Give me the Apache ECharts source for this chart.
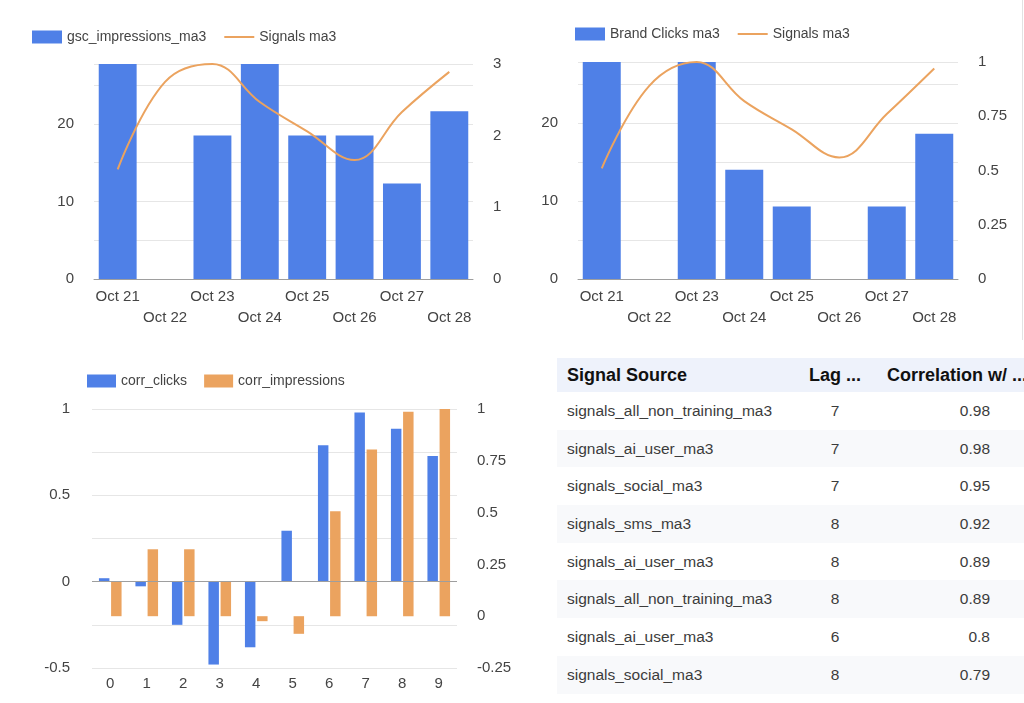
<!DOCTYPE html>
<html>
<head>
<meta charset="utf-8">
<script src="https://cdn.jsdelivr.net/npm/echarts@6/dist/echarts.min.js"></script>
<style>
  html, body { margin: 0; padding: 0; background: #fff; }
  body { width: 1024px; height: 703px; position: relative; overflow: hidden; font-family: "Liberation Sans", Arial, sans-serif; }
  .box { position: absolute; }
  #chart1 { left: 0; top: 0; width: 520px; height: 340px; }
  #chart2 { left: 520px; top: 0; width: 504px; height: 340px; }
  #chart3 { left: 0; top: 345px; width: 545px; height: 358px; }
  #edge { position: absolute; left: 1022px; top: 0; width: 1px; height: 340px; background: #e2e2e2; }
  #table { position: absolute; left: 557px; top: 358px; width: 467px; overflow: hidden; }
  table { border-collapse: collapse; table-layout: fixed; width: 480px; }
  th, td { padding: 0; white-space: nowrap; overflow: hidden; }
  th { height: 34px; background: #eef2fb; color: #111; font-size: 18px; font-weight: bold; text-align: left; }
  td { height: 37.7px; color: #3c3c3c; font-size: 15.5px; }
  tr.odd td { background: #f8f9fb; }
  .c1 { width: 233px; padding-left: 10px; box-sizing: border-box; }
  .c2 { width: 90px; text-align: center; }
  .c3 { width: 157px; }
  td.c3 { text-align: right; padding-right: 47px; box-sizing: border-box; }
  th.c3 { padding-left: 7px; box-sizing: border-box; }
</style>
</head>
<body>
<div id="chart1" class="box"></div>
<div id="chart2" class="box"></div>
<div id="chart3" class="box"></div>
<div id="edge"></div>
<div id="table"></div>
<script>
// dates shared by the two top charts
const days = ['Oct 21', 'Oct 22', 'Oct 23', 'Oct 24', 'Oct 25', 'Oct 26', 'Oct 27', 'Oct 28'];

// top left
const gscImpressions = [27.7, 0, 18.5, 27.7, 18.5, 18.5, 12.3, 21.6];
const signalsImp = [1.53, 2.75, 3.0, 2.47, 2.06, 1.66, 2.33, 2.89];

// top right
const brandClicks = [27.8, 0, 27.8, 14.0, 9.3, 0, 9.3, 18.6];
const signalsClk = [0.51, 0.89, 1.0, 0.82, 0.69, 0.56, 0.76, 0.97];

// bottom left, lag days
const lags = ['0', '1', '2', '3', '4', '5', '6', '7', '8', '9'];
const corrClicks = [0.02, -0.027, -0.25, -0.48, -0.38, 0.295, 0.79, 0.98, 0.886, 0.728];
const corrImpressions = [0.168, 0.323, 0.323, 0.168, -0.024, -0.085, 0.506, 0.805, 0.987, 1.0];

// table
const tableHeader = ['Signal Source', 'Lag ...', 'Correlation w/ ...'];
const sources = ['signals_all_non_training_ma3', 'signals_ai_user_ma3', 'signals_social_ma3', 'signals_sms_ma3',
  'signals_ai_user_ma3', 'signals_all_non_training_ma3', 'signals_ai_user_ma3', 'signals_social_ma3'];
const lagDays = [7, 7, 7, 8, 8, 8, 6, 8];
const correlations = [0.98, 0.98, 0.95, 0.92, 0.89, 0.89, 0.8, 0.79];

const BLUE = '#4f80e7';
const ORANGE = '#eba35f';
const FONT = 'Liberation Sans';
const TXT = '#444';
const GRID = '#e6e6e6';

function labelStyle() {
    return { color: TXT, fontSize: 15, fontFamily: FONT };
}

function comboOption(opt) {
    return {
        animation: false,
        textStyle: { fontFamily: FONT },
        legend: {
            left: opt.legendLeft, top: opt.legendTop, padding: 0,
            itemWidth: 30, itemHeight: 13, itemGap: 17,
            textStyle: { color: TXT, fontSize: 14, fontFamily: FONT },
            data: [
                { name: opt.barName, icon: 'rect' },
                { name: 'Signals ma3', itemStyle: { opacity: 0 }, lineStyle: { width: 2 } }
            ]
        },
        grid: opt.grid,
        xAxis: {
            type: 'category',
            data: days,
            axisTick: { show: false },
            axisLine: { lineStyle: { color: '#9e9e9e' } },
            axisLabel: Object.assign(labelStyle(), {
                interval: 0, margin: 7, lineHeight: 21,
                formatter: (v, i) => (i % 2 ? '\n' + v : v)
            })
        },
        yAxis: [{
            type: 'value', min: 0, max: opt.leftMax, interval: 5,
            axisLabel: Object.assign(labelStyle(), {
                margin: 20,
                formatter: v => (v % 10 === 0 ? String(v) : '')
            }),
            splitLine: { lineStyle: { color: GRID } }
        }, {
            type: 'value', min: 0, max: opt.rightMax, interval: opt.rightStep,
            axisLabel: Object.assign(labelStyle(), { margin: 20 }),
            splitLine: { show: false }
        }],
        series: [{
            name: opt.barName,
            type: 'bar',
            data: opt.bars,
            barCategoryGap: '20%',
            itemStyle: { color: BLUE }
        }, {
            name: 'Signals ma3',
            type: 'line',
            yAxisIndex: 1,
            data: opt.line,
            smooth: 0.4,
            symbol: 'none',
            lineStyle: { color: ORANGE, width: 2 },
            itemStyle: { color: ORANGE }
        }]
    };
}

const chart1 = echarts.init(document.getElementById('chart1'));
chart1.setOption(comboOption({
    legendLeft: 32, legendTop: 30,
    grid: { left: 94, top: 64, width: 379, height: 215 },
    barName: 'gsc_impressions_ma3',
    bars: gscImpressions, line: signalsImp,
    leftMax: 27.7, rightMax: 3, rightStep: 1
}));

const chart2 = echarts.init(document.getElementById('chart2'));
chart2.setOption(comboOption({
    legendLeft: 55, legendTop: 27,
    grid: { left: 58, top: 62, width: 380, height: 217 },
    barName: 'Brand Clicks ma3',
    bars: brandClicks, line: signalsClk,
    leftMax: 27.8, rightMax: 1, rightStep: 0.25
}));

const chart3 = echarts.init(document.getElementById('chart3'));
chart3.setOption({
    animation: false,
    textStyle: { fontFamily: FONT },
    legend: {
        left: 87, top: 29, padding: 0,
        itemWidth: 29, itemHeight: 13, itemGap: 17,
        icon: 'rect',
        textStyle: { color: TXT, fontSize: 14, fontFamily: FONT },
        data: ['corr_clicks', 'corr_impressions']
    },
    grid: { left: 92, top: 64, width: 365, height: 259 },
    xAxis: {
        type: 'category',
        data: lags,
        axisTick: { show: false },
        axisLine: { onZero: false, show: false },
        axisLabel: Object.assign(labelStyle(), { interval: 0, margin: 8 })
    },
    yAxis: [{
        type: 'value', min: -0.5, max: 1, interval: 0.25,
        axisLabel: Object.assign(labelStyle(), {
            margin: 22,
            formatter: v => (Math.abs(v * 2 - Math.round(v * 2)) < 1e-9 ? String(v) : '')
        }),
        splitLine: { lineStyle: { color: GRID } }
    }, {
        type: 'value', min: -0.25, max: 1, interval: 0.25,
        axisLabel: Object.assign(labelStyle(), { margin: 20 }),
        splitLine: { show: false }
    }],
    series: [{
        name: 'corr_clicks',
        type: 'bar',
        data: corrClicks,
        barGap: '16%',
        barCategoryGap: '38%',
        itemStyle: { color: BLUE },
        markLine: {
            silent: true, symbol: 'none',
            label: { show: false },
            lineStyle: { color: '#9e9e9e', type: 'solid', width: 1 },
            data: [{ yAxis: 0 }]
        }
    }, {
        name: 'corr_impressions',
        type: 'bar',
        yAxisIndex: 1,
        data: corrImpressions,
        itemStyle: { color: ORANGE }
    }]
});

// table
let html = '<table><tr>';
tableHeader.forEach((h, i) => { html += '<th class="c' + (i + 1) + '">' + h + '</th>'; });
html += '</tr>';
sources.forEach((s, i) => {
    html += '<tr class="' + (i % 2 ? 'odd' : '') + '">' +
        '<td class="c1">' + s + '</td>' +
        '<td class="c2">' + lagDays[i] + '</td>' +
        '<td class="c3">' + correlations[i] + '</td></tr>';
});
html += '</table>';
document.getElementById('table').innerHTML = html;
</script>
</body>
</html>
